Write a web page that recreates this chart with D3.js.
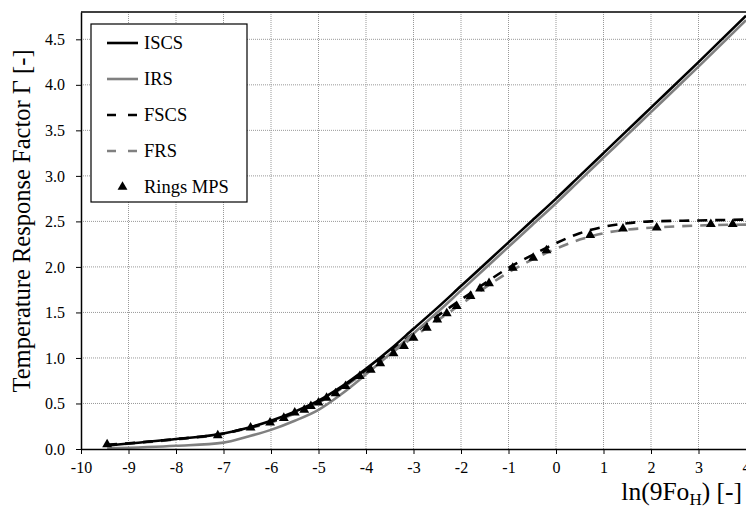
<!DOCTYPE html>
<html>
<head>
<meta charset="utf-8">
<script src="https://cdn.jsdelivr.net/npm/d3@7"></script>
<style>
  html, body { margin: 0; padding: 0; background: #fff; }
  svg { display: block; }
  svg text { font-family: "Liberation Serif", "Times New Roman", serif; fill: #000; }
</style>
</head>
<body>
<div id="container"></div>
<script>
// x grid for the four model curves, ln(9Fo_H)
const curveX = [-9.45, -8, -7, -6.5, -6, -5.5, -5, -4.5, -4, -3.5, -3, -2.5, -2, -1.5, -1, -0.5, 0, 0.5, 1, 1.5, 2, 3, 4];
const iscs = [0.04, 0.11, 0.17, 0.23, 0.31, 0.41, 0.53, 0.69, 0.88, 1.09, 1.32, 1.55, 1.79, 2.03, 2.27, 2.51, 2.75, 3.00, 3.25, 3.50, 3.75, 4.25, 4.76];
const irs = [0.005, 0.035, 0.07, 0.135, 0.21, 0.31, 0.43, 0.61, 0.82, 1.04, 1.27, 1.50, 1.74, 1.98, 2.22, 2.46, 2.70, 2.95, 3.20, 3.45, 3.70, 4.20, 4.71];
const fscs = [0.045, 0.11, 0.17, 0.23, 0.30, 0.40, 0.52, 0.68, 0.87, 1.07, 1.27, 1.46, 1.64, 1.82, 1.99, 2.13, 2.26, 2.37, 2.44, 2.48, 2.50, 2.51, 2.52];
const frs = [0.04, 0.105, 0.165, 0.225, 0.29, 0.39, 0.51, 0.67, 0.85, 1.04, 1.23, 1.41, 1.59, 1.77, 1.94, 2.08, 2.20, 2.30, 2.37, 2.41, 2.43, 2.455, 2.465];

// Rings MPS points
const mpsX = [-9.45, -7.12, -6.43, -6.02, -5.73, -5.5, -5.3, -5.16, -5.0, -4.83, -4.64, -4.43, -4.13, -3.9, -3.7, -3.42, -3.2, -3.0, -2.72, -2.5, -2.3, -2.09, -1.8, -1.6, -1.41, -0.91, -0.48, -0.2, 0.72, 1.41, 2.12, 3.26, 3.72];
const mpsY = [0.05, 0.15, 0.235, 0.29, 0.34, 0.40, 0.43, 0.47, 0.51, 0.56, 0.61, 0.69, 0.80, 0.87, 0.94, 1.05, 1.13, 1.22, 1.33, 1.42, 1.49, 1.57, 1.68, 1.76, 1.82, 1.99, 2.10, 2.18, 2.35, 2.42, 2.43, 2.47, 2.47];

const xTicks = [-10, -9, -8, -7, -6, -5, -4, -3, -2, -1, 0, 1, 2, 3, 4];
const yTicks = [0, 0.5, 1, 1.5, 2, 2.5, 3, 3.5, 4, 4.5];
const seriesNames = ["ISCS", "IRS", "FSCS", "FRS"];

const w = 746, h = 513;
const padL = 81, padR = 746, padT = 12, padB = 449;

const xScale = d3.scaleLinear().domain([-10, 4]).range([padL, padR]);
const yScale = d3.scaleLinear().domain([0, 4.8]).range([padB, padT]);

const styles = {
    ISCS: { color: "#000", dash: null },
    IRS: { color: "#808080", dash: null },
    FSCS: { color: "#000", dash: "10,8" },
    FRS: { color: "#808080", dash: "10,8" }
};
const seriesData = { ISCS: iscs, IRS: irs, FSCS: fscs, FRS: frs };

const svg = d3.select("#container").append("svg")
    .attr("width", w).attr("height", h);

// grid
svg.append("g").selectAll("line")
    .data(xTicks.filter(d => d > -10 && d < 4))
    .enter().append("line")
    .attr("x1", d => xScale(d)).attr("x2", d => xScale(d))
    .attr("y1", padT).attr("y2", padB)
    .attr("stroke", "#999").attr("stroke-width", 1).attr("stroke-dasharray", "1,1");
svg.append("g").selectAll("line")
    .data(yTicks.filter(d => d > 0))
    .enter().append("line")
    .attr("x1", padL).attr("x2", padR)
    .attr("y1", d => yScale(d)).attr("y2", d => yScale(d))
    .attr("stroke", "#999").attr("stroke-width", 1).attr("stroke-dasharray", "1,1");

// top border
svg.append("line")
    .attr("x1", padL).attr("x2", padR).attr("y1", padT).attr("y2", padT)
    .attr("stroke", "#000").attr("stroke-width", 1.5);

const line = d3.line()
    .x((d, i) => xScale(curveX[i]))
    .y(d => yScale(d))
    .curve(d3.curveMonotoneX);

["FRS", "FSCS", "IRS", "ISCS"].forEach(name => {
    svg.append("path")
        .datum(seriesData[name])
        .attr("d", line)
        .attr("fill", "none")
        .attr("stroke", styles[name].color)
        .attr("stroke-width", 2.6)
        .attr("stroke-dasharray", styles[name].dash);
});

const tri = d3.symbol().type(d3.symbolTriangle).size(42);
svg.append("g").selectAll("path")
    .data(mpsX)
    .enter().append("path")
    .attr("d", tri)
    .attr("transform", (d, i) => "translate(" + xScale(d) + "," + yScale(mpsY[i]) + ")")
    .attr("fill", "#000");

// axes
const xAxis = d3.axisBottom(xScale).tickValues(xTicks).tickSize(5).tickSizeOuter(0);
const yAxis = d3.axisLeft(yScale).tickValues(yTicks).tickSize(5).tickSizeOuter(0).tickFormat(d3.format(".1f"));

const gx = svg.append("g")
    .attr("transform", "translate(0," + padB + ")")
    .call(xAxis)
    .attr("font-family", null).attr("font-size", null);
gx.select(".domain").attr("stroke-width", 1.5);
gx.selectAll("text").style("font-size", "16px")
    .attr("y", 13).attr("dy", "0.71em").text(d => d < 0 ? "-" + Math.abs(d) : d);

const gy = svg.append("g")
    .attr("transform", "translate(" + padL + ",0)")
    .call(yAxis)
    .attr("font-family", null).attr("font-size", null);
gy.select(".domain").attr("stroke-width", 1.5);
gy.selectAll("text").style("font-size", "16px")
    .attr("x", -16);

// axis titles
svg.append("text")
    .attr("transform", "translate(30,221) rotate(-90)")
    .attr("text-anchor", "middle")
    .style("font-size", "24.5px")
    .text("Temperature Response Factor \u0393 [-]");

const xt = svg.append("text")
    .attr("x", 742).attr("y", 500)
    .attr("text-anchor", "end")
    .style("font-size", "25.5px");
xt.append("tspan").text("ln(9Fo");
xt.append("tspan").style("font-size", "17px").attr("dy", 5).text("H");
xt.append("tspan").attr("dy", -5).text(") [-]");

// legend
const legend = svg.append("g").attr("transform", "translate(91,24)");
legend.append("rect")
    .attr("width", 156).attr("height", 178)
    .attr("fill", "#fff").attr("stroke", "#000").attr("stroke-width", 1.2);

seriesNames.forEach((name, i) => {
    const yy = 19 + i * 36;
    legend.append("line")
        .attr("x1", 16).attr("x2", 47).attr("y1", yy).attr("y2", yy)
        .attr("stroke", styles[name].color).attr("stroke-width", 2.6)
        .attr("stroke-dasharray", styles[name].dash ? "9,12" : null);
    legend.append("text")
        .attr("x", 53).attr("y", yy).attr("dy", "0.35em")
        .style("font-size", "18.5px")
        .text(name);
});
legend.append("path")
    .attr("d", tri)
    .attr("transform", "translate(31.5,163)")
    .attr("fill", "#000");
legend.append("text")
    .attr("x", 53).attr("y", 163).attr("dy", "0.35em")
    .style("font-size", "18.5px")
    .text("Rings MPS");
</script>
</body>
</html>
